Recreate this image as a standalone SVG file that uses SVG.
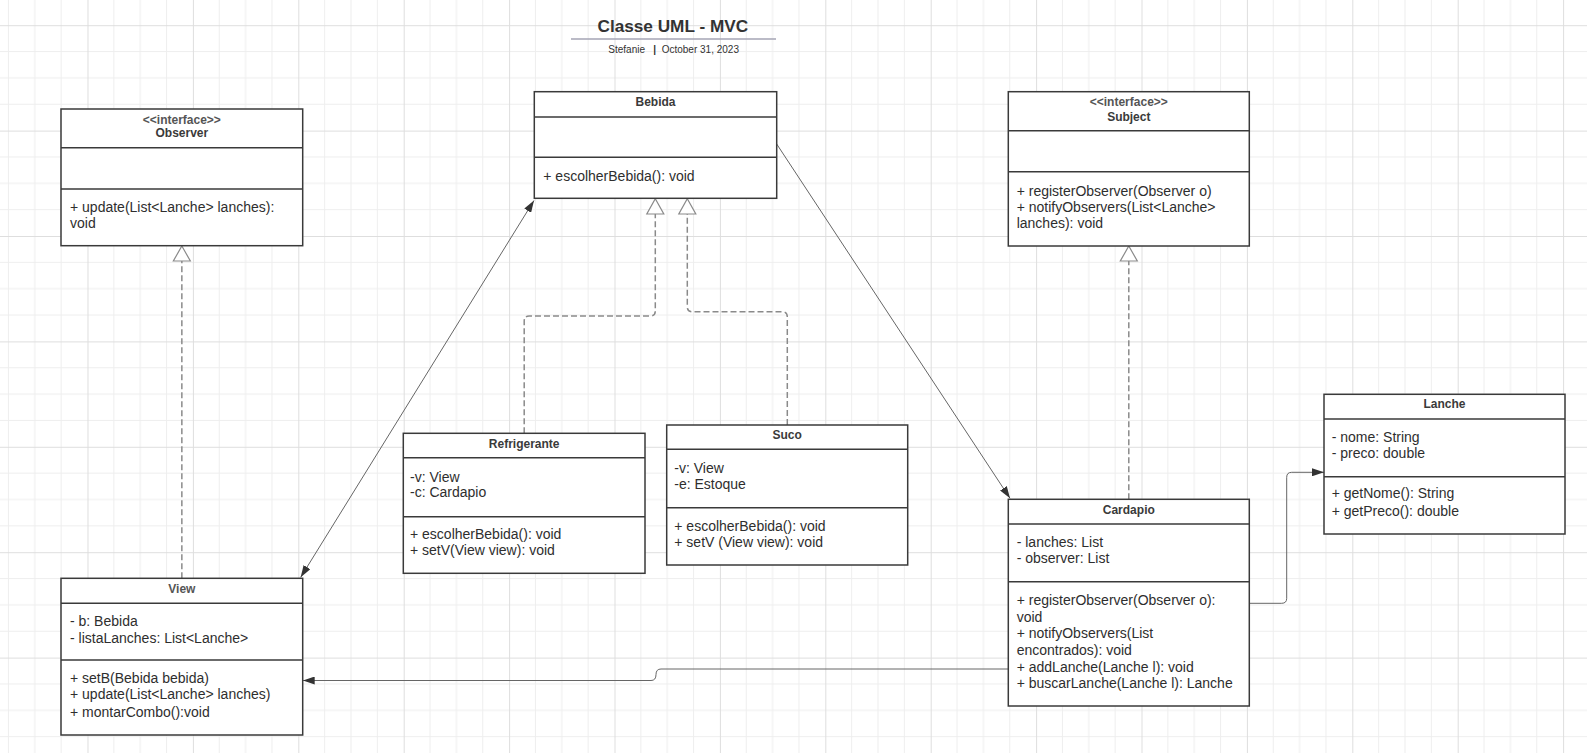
<svg xmlns="http://www.w3.org/2000/svg" width="1587" height="753" viewBox="0 0 1587 753">
<style>
  .box { fill: #ffffff; stroke: #3a3a3a; stroke-width: 1.5; }
  .sep { stroke: #3a3a3a; stroke-width: 1.5; }
  .ttl { font-family: "Liberation Sans", Arial, sans-serif; font-size: 12px; font-weight: bold; fill: #3a3a3a; text-anchor: middle; }
  .st { font-family: "Liberation Sans", Arial, sans-serif; font-size: 12px; font-weight: bold; fill: #555555; text-anchor: middle; }
  .tx { font-family: "Liberation Sans", Arial, sans-serif; font-size: 14px; fill: #2e2e2e; }
  .con { fill: none; stroke: #666666; stroke-width: 1; }
  .real { fill: none; stroke: #8a8a8a; stroke-width: 1.5; stroke-dasharray: 6 3; }
  .tri { fill: #ffffff; stroke: #8a8a8a; stroke-width: 1.2; }
</style>
<defs>
  <pattern id="grid" patternUnits="userSpaceOnUse" x="87.5" y="25.2" width="105.4" height="105.4">
    <path d="M26.35 0V105.4M52.7 0V105.4M79.05 0V105.4M0 26.35H105.4M0 52.7H105.4M0 79.05H105.4" stroke="#eeeeee" stroke-width="1" fill="none"/>
    <path d="M0.5 0V105.4M0 0.5H105.4" stroke="#dedede" stroke-width="1" fill="none"/>
  </pattern>
  <marker id="arr" viewBox="0 0 12 8" refX="12" refY="4" markerWidth="12" markerHeight="8" markerUnits="userSpaceOnUse" orient="auto-start-reverse">
    <path d="M0 0L12 4L0 8Z" fill="#333333"/>
  </marker>
</defs>
<rect width="1587" height="753" fill="#ffffff"/>
<rect width="1587" height="753" fill="url(#grid)"/>

<g id="title">
  <text x="672.8" y="31.7" font-family="Liberation Sans, Arial, sans-serif" font-size="17.2" font-weight="bold" fill="#333333" text-anchor="middle">Classe UML - MVC</text>
  <line x1="571" y1="39" x2="776" y2="39" stroke="#a4a4b4" stroke-width="1.5"/>
  <text x="608.3" y="52.7" font-family="Liberation Sans, Arial, sans-serif" font-size="10" fill="#333333">Stefanie</text>
  <text x="653.3" y="52.7" font-family="Liberation Sans, Arial, sans-serif" font-size="10" font-weight="bold" fill="#333333">|</text>
  <text x="661.7" y="52.7" font-family="Liberation Sans, Arial, sans-serif" font-size="10" fill="#333333">October 31, 2023</text>
</g>

<g id="connectors">
  <!-- realizations -->
  <line class="real" x1="181.85" y1="578.3" x2="181.85" y2="261"/>
  <path class="tri" d="M181.85 246L190.35 261H173.35Z"/>
  <line class="real" x1="1128.8" y1="499.3" x2="1128.8" y2="261"/>
  <path class="tri" d="M1128.8 246L1137.3 261H1120.3Z"/>
  <path class="real" d="M524.2 433.3V321Q524.2 316 529.2 316H650.3Q655.3 316 655.3 311V214"/>
  <path class="tri" d="M655.3 198.8L663.8 214H646.8Z"/>
  <path class="real" d="M787.3 425V316.7Q787.3 311.7 782.3 311.7H692.3Q687.3 311.7 687.3 306.7V214"/>
  <path class="tri" d="M687.3 198.8L695.8 214H678.8Z"/>
  <!-- associations -->
  <line class="con" x1="300.7" y1="577.3" x2="534" y2="200.5" marker-start="url(#arr)" marker-end="url(#arr)"/>
  <line class="con" x1="776.7" y1="144" x2="1010" y2="498.3" marker-end="url(#arr)"/>
  <path class="con" d="M1249.3 603.3H1281.7Q1286.7 603.3 1286.7 598.3V477.3Q1286.7 472.3 1291.7 472.3H1324" marker-end="url(#arr)"/>
  <path class="con" d="M1008.3 669H661Q656 669 656 674.5Q656 680.5 651 680.5H302.7" marker-end="url(#arr)"/>
</g>

<g id="Observer">
  <rect class="box" x="61" y="109" width="241.7" height="136.7"/>
  <line class="sep" x1="61" y1="147.7" x2="302.7" y2="147.7"/>
  <line class="sep" x1="61" y1="189" x2="302.7" y2="189"/>
  <text class="st" x="181.85" y="124">&lt;&lt;interface&gt;&gt;</text>
  <text class="ttl" x="181.85" y="137.3">Observer</text>
  <text class="tx" x="70" y="211.7">+ update(List&lt;Lanche&gt; lanches):</text>
  <text class="tx" x="70" y="228.3">void</text>
</g>

<g id="Bebida">
  <rect class="box" x="534.3" y="91.7" width="242.4" height="106.6"/>
  <line class="sep" x1="534.3" y1="117" x2="776.7" y2="117"/>
  <line class="sep" x1="534.3" y1="157.3" x2="776.7" y2="157.3"/>
  <text class="ttl" x="655.5" y="105.7">Bebida</text>
  <text class="tx" x="543.3" y="180.7">+ escolherBebida(): void</text>
</g>

<g id="Subject">
  <rect class="box" x="1008.3" y="91.7" width="241" height="154.3"/>
  <line class="sep" x1="1008.3" y1="130.7" x2="1249.3" y2="130.7"/>
  <line class="sep" x1="1008.3" y1="171.7" x2="1249.3" y2="171.7"/>
  <text class="st" x="1128.8" y="105.7">&lt;&lt;interface&gt;&gt;</text>
  <text class="ttl" x="1128.8" y="120.7">Subject</text>
  <text class="tx" x="1016.7" y="195.7">+ registerObserver(Observer o)</text>
  <text class="tx" x="1016.7" y="211.7">+ notifyObservers(List&lt;Lanche&gt;</text>
  <text class="tx" x="1016.7" y="227.7">lanches): void</text>
</g>

<g id="Refrigerante">
  <rect class="box" x="403.3" y="433.3" width="241.7" height="140"/>
  <line class="sep" x1="403.3" y1="457.7" x2="645" y2="457.7"/>
  <line class="sep" x1="403.3" y1="516.7" x2="645" y2="516.7"/>
  <text class="ttl" x="524.2" y="448.3">Refrigerante</text>
  <text class="tx" x="410" y="481.7">-v: View</text>
  <text class="tx" x="410" y="497.3">-c: Cardapio</text>
  <text class="tx" x="410" y="539.3">+ escolherBebida(): void</text>
  <text class="tx" x="410" y="555">+ setV(View view): void</text>
</g>

<g id="Suco">
  <rect class="box" x="666.7" y="425" width="241" height="140"/>
  <line class="sep" x1="666.7" y1="449.3" x2="907.7" y2="449.3"/>
  <line class="sep" x1="666.7" y1="507.7" x2="907.7" y2="507.7"/>
  <text class="ttl" x="787.2" y="439.3">Suco</text>
  <text class="tx" x="674.3" y="473.3">-v: View</text>
  <text class="tx" x="674.3" y="489">-e: Estoque</text>
  <text class="tx" x="674.3" y="530.7">+ escolherBebida(): void</text>
  <text class="tx" x="674.3" y="546.7">+ setV (View view): void</text>
</g>

<g id="View">
  <rect class="box" x="61" y="578.3" width="241.7" height="156.7"/>
  <line class="sep" x1="61" y1="603.3" x2="302.7" y2="603.3"/>
  <line class="sep" x1="61" y1="660" x2="302.7" y2="660"/>
  <text class="ttl" x="181.85" y="592.7" fill="#555555" style="fill:#555555">View</text>
  <text class="tx" x="70" y="626">- b: Bebida</text>
  <text class="tx" x="70" y="642.7">- listaLanches: List&lt;Lanche&gt;</text>
  <text class="tx" x="70" y="682.7">+ setB(Bebida bebida)</text>
  <text class="tx" x="70" y="699.3">+ update(List&lt;Lanche&gt; lanches)</text>
  <text class="tx" x="70" y="716.7">+ montarCombo():void</text>
</g>

<g id="Cardapio">
  <rect class="box" x="1008.3" y="499.3" width="241" height="206.7"/>
  <line class="sep" x1="1008.3" y1="524" x2="1249.3" y2="524"/>
  <line class="sep" x1="1008.3" y1="581.7" x2="1249.3" y2="581.7"/>
  <text class="ttl" x="1128.8" y="514">Cardapio</text>
  <text class="tx" x="1016.7" y="546.7">- lanches: List</text>
  <text class="tx" x="1016.7" y="563.3">- observer: List</text>
  <text class="tx" x="1016.7" y="605">+ registerObserver(Observer o):</text>
  <text class="tx" x="1016.7" y="621.5">void</text>
  <text class="tx" x="1016.7" y="638.3">+ notifyObservers(List</text>
  <text class="tx" x="1016.7" y="655">encontrados): void</text>
  <text class="tx" x="1016.7" y="671.7">+ addLanche(Lanche l): void</text>
  <text class="tx" x="1016.7" y="688.3">+ buscarLanche(Lanche l): Lanche</text>
</g>

<g id="Lanche">
  <rect class="box" x="1324" y="394.3" width="241" height="139.7"/>
  <line class="sep" x1="1324" y1="419" x2="1565" y2="419"/>
  <line class="sep" x1="1324" y1="476.7" x2="1565" y2="476.7"/>
  <text class="ttl" x="1444.5" y="408.3">Lanche</text>
  <text class="tx" x="1331.7" y="441.7">- nome: String</text>
  <text class="tx" x="1331.7" y="458.3">- preco: double</text>
  <text class="tx" x="1331.7" y="498.3">+ getNome(): String</text>
  <text class="tx" x="1331.7" y="515.7">+ getPreco(): double</text>
</g>
</svg>
